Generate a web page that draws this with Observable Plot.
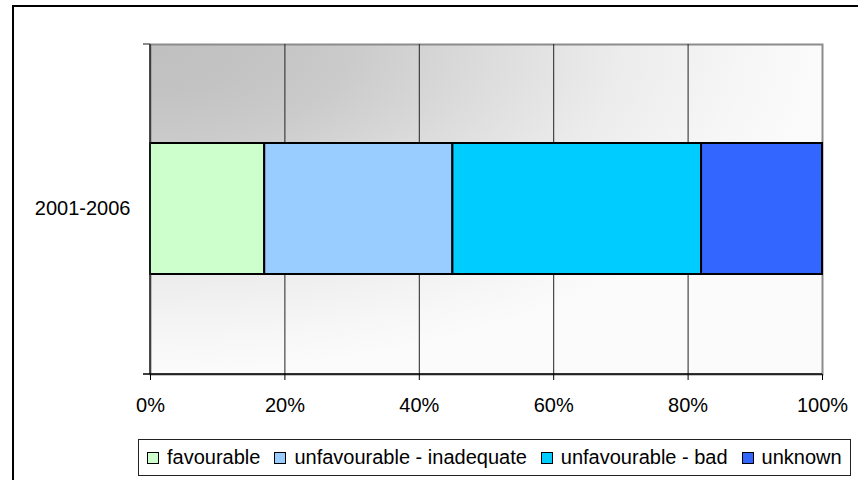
<!DOCTYPE html>
<html>
<head>
<meta charset="utf-8">
<script src="https://cdn.jsdelivr.net/npm/d3@7"></script>
<script src="https://cdn.jsdelivr.net/npm/@observablehq/plot@0.6"></script>
<style>
  html, body { margin: 0; padding: 0; background: #fff; width: 858px; height: 480px; overflow: hidden; }
  #wrap { position: relative; width: 858px; height: 480px; font-family: "Liberation Sans", Arial, sans-serif; }
  #outer { position: absolute; left: 12px; top: 5px; width: 900px; height: 520px; border: 2px solid #000; box-sizing: border-box; }
  #chart { position: absolute; left: 0; top: 0; }
  #legend { position: absolute; left: 138px; top: 439px; width: 713px; height: 37px; box-sizing: border-box;
            border: 1px solid #222; display: flex; align-items: center; padding-left: 8px;
            font-size: 20px; color: #000; white-space: nowrap; }
  .item { display: flex; align-items: center; margin-right: 14px; }
  .sw { width: 10px; height: 10px; border: 1px solid #000; margin-right: 8px; }
</style>
</head>
<body>
<div id="wrap">
  <div id="outer"></div>
  <div id="chart"></div>
  <div id="legend"></div>
</div>
<script>
const categories = ["2001-2006"];
const series = ["favourable", "unfavourable - inadequate", "unfavourable - bad", "unknown"];
const values = [17, 28, 37, 18];
const colors = ["#CCFFCC", "#99CCFF", "#00CCFF", "#3366FF"];
const xTicks = [0, 20, 40, 60, 80, 100];

const data = series.map((s, i) => ({period: categories[0], status: s, value: values[i]}));

const plot = Plot.plot({
  width: 858,
  height: 430,
  marginLeft: 150,
  marginRight: 36,
  marginTop: 44,
  marginBottom: 56,
  style: {fontFamily: "'Liberation Sans', Arial, sans-serif", fontSize: "20px", color: "#000", background: "transparent", overflow: "visible"},
  x: {domain: [0, 100], label: null},
  y: {domain: categories, padding: 0.43, label: null},
  color: {domain: series, range: colors},
  marks: [
    Plot.frame({fill: "url(#bgGrad)", stroke: "#8c8c8c", strokeWidth: 2}),
    Plot.gridX(xTicks.slice(1, -1), {stroke: "#222", strokeOpacity: 1, strokeWidth: 1}),
    Plot.barX(data, Plot.stackX({x: "value", y: "period", fill: "status", stroke: "#000", strokeWidth: 2})),
    Plot.axisX({ticks: xTicks, tickFormat: d => d + "%", tickSize: 6, tickPadding: 17, stroke: "#000", label: null}),
    Plot.axisY({tickSize: 0, tickPadding: 20, label: null})
  ]
});
document.getElementById("chart").appendChild(plot);

// background gradient + axis lines derived from scales
const svg = d3.select(plot);
const defs = svg.insert("defs", ":first-child");
const g = defs.append("radialGradient").attr("id", "bgGrad")
  .attr("cx", 0).attr("cy", 0).attr("r", 1).attr("fx", 0).attr("fy", 0);
[[0, "#c0c0c0"], [0.15, "#c3c3c3"], [0.3, "#cbcbcb"], [0.5, "#dcdcdc"], [0.7, "#ececec"], [0.9, "#f7f7f7"], [1, "#fbfbfb"]]
  .forEach(([o, c]) => g.append("stop").attr("offset", o).attr("stop-color", c));

const xs = plot.scale("x"), ys = plot.scale("y");
const x0 = xs.apply(0), x1 = xs.apply(100);
const [yTop, yBot] = ys.range;
const lines = svg.append("g");
lines.append("line").attr("x1", x0 - 7).attr("x2", x0).attr("y1", yTop).attr("y2", yTop).attr("stroke", "#8c8c8c").attr("stroke-width", 2);
lines.append("line").attr("x1", x0).attr("x2", x0).attr("y1", yTop).attr("y2", yBot).attr("stroke", "#222").attr("stroke-width", 1.5);
lines.append("line").attr("x1", x0 - 7).attr("x2", x1).attr("y1", yBot).attr("y2", yBot).attr("stroke", "#000").attr("stroke-width", 1.5);

// legend
const legend = document.getElementById("legend");
series.forEach((s, i) => {
  const it = document.createElement("div");
  it.className = "item";
  const sw = document.createElement("div");
  sw.className = "sw";
  sw.style.background = colors[i];
  const t = document.createElement("span");
  t.textContent = s;
  it.appendChild(sw); it.appendChild(t);
  legend.appendChild(it);
});
</script>
</body>
</html>
